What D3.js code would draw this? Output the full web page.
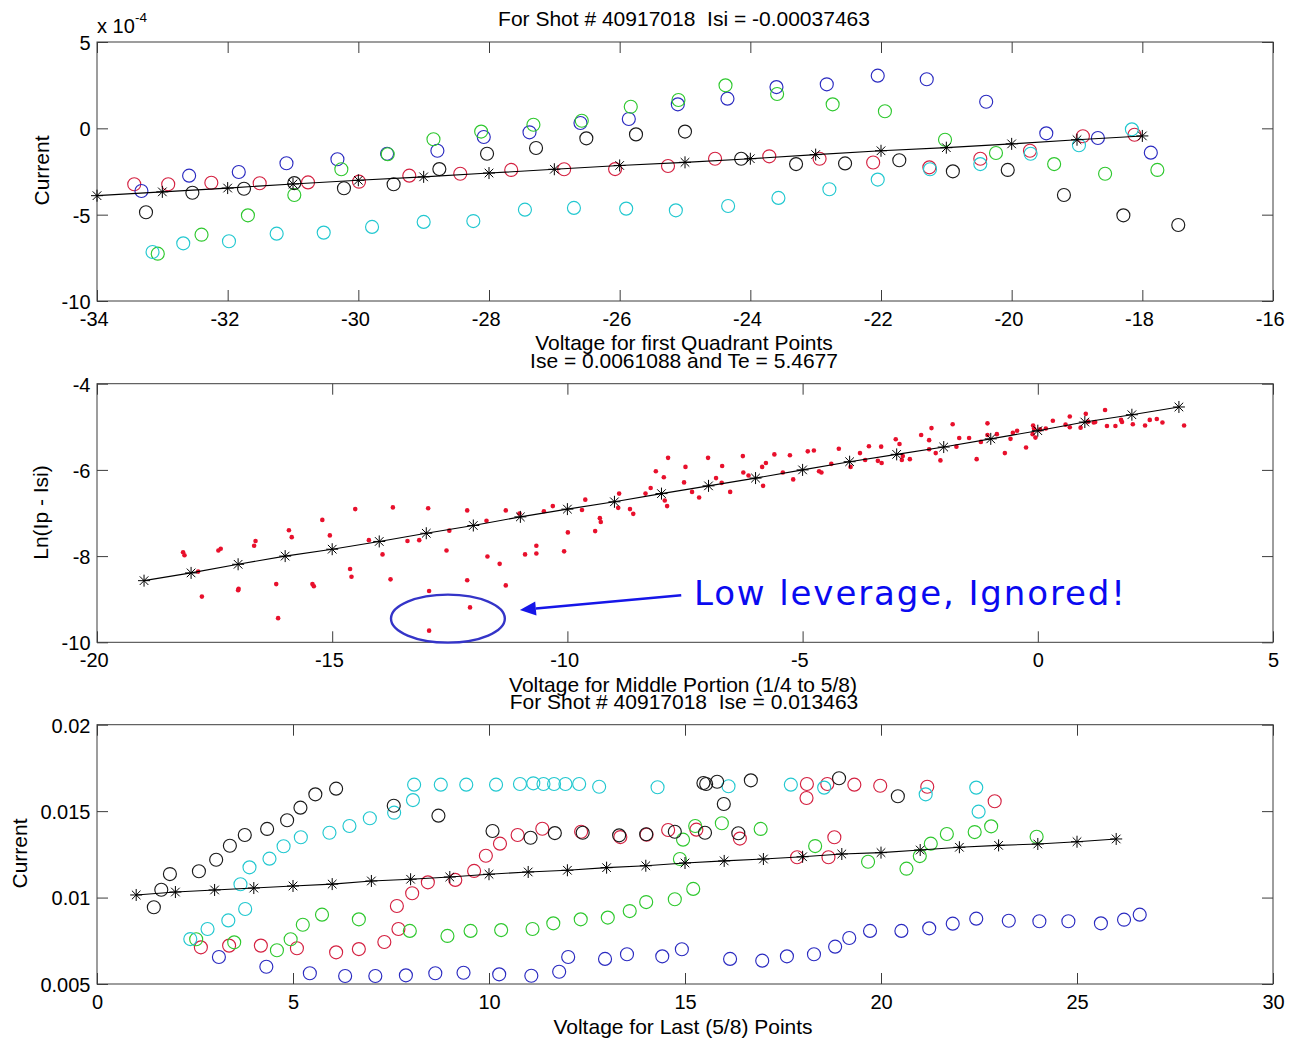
<!DOCTYPE html>
<html><head><meta charset="utf-8">
<script src="https://cdn.jsdelivr.net/npm/d3@7"></script>
<style>body{margin:0;background:#fff}</style>
</head><body>
<script>
// ---------------- DATA ----------------
// Top panel: first quadrant points (current in units of 1e-4)
const topXTicks = [-34,-32,-30,-28,-26,-24,-22,-20,-18,-16];
const topXTickLabels = ["-34","-32","-30","-28","-26","-24","-22","-20","-18","-16"];
const topYTicks = [-10,-5,0,5];
const topYTickLabels = ["-10","-5","0","5"];
const topFitV = [-34,-33,-32,-31,-30,-29,-28,-27,-26,-25,-24,-23,-22,-21,-20,-19,-18];
const topFitI = [-3.90,-3.68,-3.46,-3.22,-3.01,-2.81,-2.59,-2.37,-2.15,-1.97,-1.76,-1.52,-1.30,-1.12,-0.90,-0.66,-0.44];
const topRed = [[-33.43,-3.24],[-32.91,-3.24],[-32.25,-3.15],[-31.51,-3.18],[-30.77,-3.13],[-29.99,-3.09],[-29.22,-2.74],[-28.44,-2.63],[-27.66,-2.41],[-26.85,-2.37],[-26.07,-2.36],[-25.26,-2.18],[-24.54,-1.76],[-23.71,-1.62],[-22.94,-1.76],[-22.12,-1.98],[-21.26,-2.26],[-20.48,-1.76],[-19.72,-1.30],[-18.91,-0.46],[-18.12,-0.37]];
const topBlue = [[-33.32,-3.63],[-32.59,-2.74],[-31.83,-2.53],[-31.10,-2.02],[-30.32,-1.79],[-29.56,-1.47],[-28.79,-1.30],[-28.08,-0.50],[-27.38,-0.23],[-26.60,0.31],[-25.86,0.54],[-25.11,1.39],[-24.35,1.72],[-23.60,2.39],[-22.83,2.55],[-22.05,3.05],[-21.30,2.84],[-20.39,1.54],[-19.47,-0.29],[-18.68,-0.56],[-17.87,-1.41]];
const topGreen = [[-33.07,-7.26],[-32.40,-6.16],[-31.69,-5.04],[-30.98,-3.86],[-30.26,-2.37],[-29.55,-1.50],[-28.85,-0.63],[-28.12,-0.19],[-27.32,0.21],[-26.58,0.44],[-25.83,1.25],[-25.10,1.64],[-24.38,2.49],[-23.59,1.99],[-22.74,1.39],[-21.94,0.99],[-21.02,-0.66],[-20.24,-1.43],[-19.35,-2.07],[-18.57,-2.63],[-17.77,-2.41]];
const topCyan = [[-33.15,-7.16],[-32.68,-6.66],[-31.98,-6.54],[-31.25,-6.10],[-30.53,-6.04],[-29.79,-5.71],[-29.00,-5.42],[-28.24,-5.37],[-27.45,-4.71],[-26.70,-4.61],[-25.90,-4.65],[-25.14,-4.75],[-24.34,-4.50],[-23.57,-4.03],[-22.79,-3.53],[-22.05,-2.97],[-21.25,-2.37],[-20.48,-2.07],[-19.71,-1.47],[-18.97,-0.98],[-18.16,-0.06]];
const topBlack = [[-33.25,-4.86],[-32.54,-3.73],[-31.75,-3.50],[-30.98,-3.17],[-30.22,-3.47],[-29.46,-3.24],[-28.76,-2.36],[-28.03,-1.47],[-27.28,-1.14],[-26.51,-0.58],[-25.75,-0.35],[-25.00,-0.19],[-24.14,-1.76],[-23.30,-2.07],[-22.55,-2.03],[-21.72,-1.85],[-20.90,-2.49],[-20.06,-2.41],[-19.20,-3.86],[-18.29,-5.04],[-17.45,-5.60]];

// Middle panel: ln(Ip - Isi) vs voltage
const midXTicks = [-20,-15,-10,-5,0,5];
const midXTickLabels = ["-20","-15","-10","-5","0","5"];
const midYTicks = [-10,-8,-6,-4];
const midYTickLabels = ["-10","-8","-6","-4"];
const midFitV = [-19,-18,-17,-16,-15,-14,-13,-12,-11,-10,-9,-8,-7,-6,-5,-4,-3,-2,-1,0,1,2,3];
const midFitL = [-8.57,-8.39,-8.19,-8.00,-7.84,-7.66,-7.47,-7.29,-7.09,-6.91,-6.74,-6.55,-6.37,-6.19,-6.00,-5.81,-5.64,-5.47,-5.28,-5.09,-4.89,-4.72,-4.54];
const midDots = [[-18.17,-7.91],[-18.14,-7.98],[-17.77,-8.94],[-17.85,-8.36],[-17.42,-7.87],[-17.37,-7.83],[-16.99,-8.76],[-17.0,-8.79],[-16.66,-7.76],[-16.63,-7.65],[-16.19,-8.65],[-16.15,-9.44],[-15.92,-7.40],[-15.86,-7.56],[-15.42,-8.65],[-15.39,-8.70],[-15.21,-7.16],[-15.05,-7.52],[-14.51,-6.91],[-14.62,-8.30],[-14.59,-8.48],[-14.22,-7.63],[-13.93,-7.96],[-13.76,-8.54],[-13.71,-6.87],[-13.40,-7.65],[-13.15,-7.63],[-12.96,-6.89],[-12.94,-8.81],[-12.94,-9.73],[-12.57,-7.87],[-12.51,-7.41],
[-12.13,-6.94],[-12.13,-8.56],[-12.07,-9.19],[-11.72,-7.18],[-11.70,-8.01],[-11.44,-8.18],[-11.31,-6.94],[-11.31,-8.68],[-11.02,-7.01],[-10.90,-7.96],[-10.66,-7.76],[-10.66,-7.94],[-10.50,-6.96],[-10.31,-6.84],[-10.07,-7.89],[-9.99,-7.45],[-9.69,-6.93],[-9.62,-6.69],[-9.41,-7.42],[-9.31,-7.12],[-9.29,-7.21],[-8.90,-6.55],[-8.92,-6.88],[-8.67,-6.91],[-8.60,-7.02],[-8.34,-6.55],[-8.23,-6.42],[-8.12,-6.03],[-7.95,-6.17],[-7.93,-6.71],[-7.88,-6.84],[-7.86,-5.72],[-7.52,-6.29],[-7.49,-5.93],[-7.35,-6.51],[-7.20,-6.64],[-7.01,-5.72],[-6.84,-6.19],[-6.72,-6.30],[-6.71,-5.91],[-6.54,-6.51],[-6.27,-5.68],[-6.26,-6.06],[-6.15,-6.13],[-5.86,-5.93],[-5.84,-6.37],[-5.78,-5.84],[-5.60,-5.64],[-5.42,-6.06],[-5.27,-5.66],[-5.20,-6.22],[-4.89,-5.57],[-4.76,-5.55],[-4.65,-6.03],[-4.60,-6.06],[-4.39,-5.86],[-4.23,-5.51],[-3.98,-5.93],[-3.78,-5.61],[-3.67,-5.77],[-3.59,-5.45],
[-3.40,-5.79],[-3.32,-5.84],[-3.33,-5.46],[-3.02,-5.29],[-2.94,-5.40],[-2.89,-5.77],[-2.87,-5.68],[-2.72,-5.75],[-2.48,-5.19],[-2.31,-5.31],[-2.26,-5.03],[-2.31,-5.52],[-2.17,-5.61],[-2.07,-5.78],[-1.81,-4.94],[-1.73,-5.46],[-1.67,-5.26],[-1.46,-5.26],[-1.30,-5.75],[-1.21,-5.35],[-1.07,-4.92],[-1.07,-5.19],[-0.87,-5.17],[-0.70,-5.61],[-0.58,-5.28],[-0.53,-5.14],[-0.44,-5.09],[-0.25,-5.48],[-0.10,-4.97],[-0.08,-5.04],[-0.05,-5.25],[-0.11,-5.17],[0.05,-5.06],[0.17,-5.04],[0.32,-4.86],[0.59,-4.95],[0.68,-5.01],[0.68,-4.76],[0.91,-5.02],[1.02,-4.70],[1.07,-4.88],[1.19,-4.90],[1.22,-4.89],[1.43,-4.61],[1.47,-4.98],[1.65,-4.98],[1.77,-4.84],[1.79,-4.89],[2.02,-4.94],[2.28,-4.97],[2.38,-4.84],[2.53,-4.82],[2.65,-4.90],[3.11,-4.97]];
// Annotation (data coordinates of middle panel)
const noteText = "Low leverage, Ignored!";
const noteAt = [-7.31,-9.14];
const ellipseCenter = [-12.54,-9.45], ellipseRadii = [1.21,0.557];
const arrowFrom = [-7.58,-8.91], arrowTo = [-11.01,-9.25];

// Bottom panel: last 5/8 points (current in units of 1e-3)
const botXTicks = [0,5,10,15,20,25,30];
const botXTickLabels = ["0","5","10","15","20","25","30"];
const botYTicks = [5,10,15,20];
const botYTickLabels = ["0.005","0.01","0.015","0.02"];
const botFitV = [1,2,3,4,5,6,7,8,9,10,11,12,13,14,15,16,17,18,19,20,21,22,23,24,25,26];
const botFitI = [10.15,10.32,10.44,10.55,10.67,10.78,10.96,11.06,11.19,11.35,11.48,11.58,11.73,11.84,12.0,12.12,12.23,12.36,12.52,12.60,12.75,12.91,13.02,13.10,13.23,13.39];
const botBlack = [[1.45,9.44],[1.64,10.45],[1.86,11.36],[2.60,11.52],[3.04,12.19],[3.39,13.0],[3.77,13.62],[4.34,13.97],[4.85,14.47],[5.19,15.2],[5.57,15.97],[6.10,16.30],[7.57,15.31],[8.71,14.74],[10.09,13.85],[11.06,13.46],[11.68,13.73],[12.39,13.75],[13.32,13.60],[14.01,13.66],[14.74,13.81],[15.47,16.63],[15.54,16.57],[15.82,16.70],[15.99,15.41],[15.51,13.75],[16.36,13.72],[16.68,16.78],[18.93,16.90],[20.43,15.86]];
const botCyan = [[2.38,7.60],[2.82,8.18],[3.35,8.68],[3.78,9.34],[3.66,10.77],[3.89,11.75],[4.40,12.25],[4.76,12.97],[5.20,13.49],[5.93,13.75],[6.44,14.14],[6.96,14.59],[7.58,14.91],[8.06,15.64],[8.09,16.53],[8.77,16.53],[9.42,16.53],[10.18,16.53],[10.79,16.57],[11.13,16.61],[11.39,16.57],[11.66,16.57],[11.95,16.57],[12.30,16.57],[12.81,16.41],[14.30,16.38],[16.11,16.44],[17.70,16.53],[18.55,16.36],[21.14,15.97],[22.43,16.36],[22.49,14.97]];
const botGreen = [[2.53,7.59],[3.50,7.41],[4.59,6.95],[4.94,7.59],[5.25,8.43],[5.74,9.01],[6.68,8.74],[7.98,8.07],[8.94,7.78],[9.53,8.07],[10.31,8.12],[11.11,8.18],[11.64,8.51],[12.34,8.74],[13.03,8.84],[13.59,9.22],[14.01,9.74],[14.74,9.90],[15.21,10.50],[14.87,12.23],[14.95,13.35],[15.26,14.14],[15.94,14.30],[16.93,13.97],[18.32,12.98],[19.67,12.07],[20.65,11.67],[20.99,12.40],[21.27,13.12],[21.68,13.68],[22.39,13.79],[22.81,14.12],[23.97,13.52]];
const botRed = [[2.65,7.12],[3.37,7.22],[4.18,7.22],[5.10,7.07],[6.10,6.83],[6.68,7.02],[7.33,7.43],[7.69,8.18],[7.65,9.51],[8.04,10.25],[8.44,10.88],[9.14,11.02],[9.62,11.54],[9.92,12.42],[10.28,13.12],[10.73,13.62],[11.36,13.98],[12.35,13.81],[13.35,13.50],[14.02,13.64],[14.57,13.91],[15.29,13.93],[16.40,13.41],[17.86,12.33],[18.11,16.57],[18.10,15.76],[18.63,16.57],[18.66,12.33],[18.81,13.49],[19.32,16.53],[19.98,16.47],[21.18,16.41],[22.90,15.57]];
const botBlue = [[3.11,6.56],[4.32,6.0],[5.43,5.62],[6.33,5.46],[7.10,5.46],[7.88,5.50],[8.63,5.62],[9.35,5.65],[10.26,5.56],[11.08,5.48],[11.79,5.71],[12.02,6.56],[12.96,6.45],[13.52,6.72],[14.42,6.60],[14.92,7.01],[16.15,6.45],[16.97,6.35],[17.60,6.60],[18.29,6.72],[18.83,7.16],[19.19,7.66],[19.72,8.07],[20.52,8.07],[21.23,8.22],[21.83,8.49],[22.43,8.78],[23.26,8.66],[24.04,8.63],[24.78,8.63],[25.61,8.51],[26.20,8.72],[26.60,9.01]];

// ---------------- DRAWING ----------------
const FONT = '"Liberation Sans", Arial, Helvetica, sans-serif';
const COL = {red:"#d42040", blue:"#2a2ac0", green:"#2ec82e", cyan:"#22c8d0", black:"#1a1a1a"};
const svg = d3.select("body").append("svg").attr("width",1289).attr("height",1039);
const L = 97, R = 1273, AX = "#3c3c3c";

function panel(o){
  const x = d3.scaleLinear().domain(o.xd).range([L,R]);
  const y = d3.scaleLinear().domain(o.yd).range([o.b,o.t]);
  const g = svg.append("g");
  const xl = v => o.xl[o.xt.indexOf(v)];
  const yl = v => o.yl[o.yt.indexOf(v)];
  const ax = (gen, tr) => {
    const a = g.append("g").attr("transform",tr).call(gen);
    a.select(".domain").remove();
    a.selectAll("line").attr("stroke",AX);
    a.selectAll("text").attr("font-family",FONT).attr("font-size",20).attr("fill","#000");
    return a;
  };
  const bx = ax(d3.axisBottom(x).tickValues(o.xt).tickFormat(xl).tickSizeInner(-11).tickSizeOuter(0).tickPadding(10.5), `translate(0,${o.b})`);
  bx.selectAll("text").attr("dx", d => xl(d).startsWith("-") ? -3.3 : 0);
  ax(d3.axisTop(x).tickValues(o.xt).tickFormat("").tickSizeInner(-11).tickSizeOuter(0), `translate(0,${o.t})`);
  ax(d3.axisLeft(y).tickValues(o.yt).tickFormat(yl).tickSizeInner(-11).tickSizeOuter(0).tickPadding(6.5), `translate(${L},0)`)
    .selectAll("text").attr("dy","0.37em");
  ax(d3.axisRight(y).tickValues(o.yt).tickFormat("").tickSizeInner(-11).tickSizeOuter(0), `translate(${R},0)`);
  g.append("rect").attr("x",L).attr("y",o.t).attr("width",R-L).attr("height",o.b-o.t)
    .attr("fill","none").attr("stroke",AX).attr("stroke-width",1);
  return {x,y,g};
}

function circles(P, data, color){
  P.g.append("g").selectAll("circle").data(data).join("circle")
    .attr("cx",d=>P.x(d[0])).attr("cy",d=>P.y(d[1])).attr("r",6.5)
    .attr("fill","none").attr("stroke",color).attr("stroke-width",1.15);
}
const STAR = "M-6,0H6M0,-6V6M-4.3,-4.3L4.3,4.3M-4.3,4.3L4.3,-4.3";
function fit(P, xs, ys){
  const pts = xs.map((v,i)=>[v,ys[i]]);
  P.g.append("path").attr("d", d3.line().x(d=>P.x(d[0])).y(d=>P.y(d[1]))(pts))
    .attr("fill","none").attr("stroke","#000").attr("stroke-width",1.1);
  P.g.append("g").selectAll("path").data(pts).join("path")
    .attr("transform",d=>`translate(${P.x(d[0])},${P.y(d[1])})`)
    .attr("d",STAR).attr("stroke","#000").attr("stroke-width",1).attr("fill","none");
}
function txt(x,y,s,size,opts={}){
  const t = svg.append("text").attr("x",x).attr("y",y).text(s)
    .attr("font-family",opts.font||FONT).attr("font-size",size).attr("fill",opts.fill||"#000")
    .attr("text-anchor",opts.anchor||"middle");
  if(opts.rot) t.attr("transform",`rotate(-90,${x},${y})`);
  return t;
}

// ---- Top panel
const P1 = panel({xd:[-34,-16], yd:[-10,5], t:42, b:301, xt:topXTicks, xl:topXTickLabels, yt:topYTicks, yl:topYTickLabels});
circles(P1, topRed, COL.red);
circles(P1, topBlue, COL.blue);
circles(P1, topGreen, COL.green);
circles(P1, topCyan, COL.cyan);
circles(P1, topBlack, COL.black);
fit(P1, topFitV, topFitI);
txt(684, 26, "For Shot # 40917018  Isi = -0.00037463", 21).style("white-space","pre");
txt(97, 32.7, "x 10", 20, {anchor:"start"});
txt(135, 22, "-4", 13.5, {anchor:"start"});
txt(49, 170.5, "Current", 21, {rot:true});
txt(684, 350, "Voltage for first Quadrant Points", 21);

// ---- Middle panel
const P2 = panel({xd:[-20,5], yd:[-10,-4], t:383.7, b:642.3, xt:midXTicks, xl:midXTickLabels, yt:midYTicks, yl:midYTickLabels});
P2.g.append("g").selectAll("circle").data(midDots).join("circle")
  .attr("cx",d=>P2.x(d[0])).attr("cy",d=>P2.y(d[1])).attr("r",2.3).attr("fill","#e8102c");
fit(P2, midFitV, midFitL);
txt(684, 367.5, "Ise = 0.0061088 and Te = 5.4677", 21);
txt(48, 512.5, "Ln(Ip - Isi)", 21, {rot:true});
txt(683, 692, "Voltage for Middle Portion (1/4 to 5/8)", 21);
// annotation
P2.g.append("ellipse").attr("cx",P2.x(ellipseCenter[0])).attr("cy",P2.y(ellipseCenter[1]))
  .attr("rx",P2.x(ellipseCenter[0]+ellipseRadii[0])-P2.x(ellipseCenter[0]))
  .attr("ry",P2.y(ellipseCenter[1])-P2.y(ellipseCenter[1]+ellipseRadii[1]))
  .attr("fill","none").attr("stroke","#3434c8").attr("stroke-width",2.4);
{
  const x1=P2.x(arrowFrom[0]), y1=P2.y(arrowFrom[1]), x2=P2.x(arrowTo[0]), y2=P2.y(arrowTo[1]);
  const ang=Math.atan2(y2-y1,x2-x1), hl=16, hw=7;
  const bxp=x2-hl*Math.cos(ang), byp=y2-hl*Math.sin(ang);
  P2.g.append("line").attr("x1",x1).attr("y1",y1).attr("x2",bxp).attr("y2",byp)
    .attr("stroke","#1616e8").attr("stroke-width",2.6);
  P2.g.append("path").attr("d",`M${x2},${y2}L${bxp-hw*Math.sin(ang)},${byp+hw*Math.cos(ang)}L${bxp+hw*Math.sin(ang)},${byp-hw*Math.cos(ang)}Z`)
    .attr("fill","#1616e8");
}
txt(P2.x(noteAt[0]), P2.y(noteAt[1]), noteText, 34, {anchor:"start", font:'"DejaVu Sans", Verdana, sans-serif', fill:"#0a0af0"})
  .attr("textLength",431).attr("lengthAdjust","spacing");

// ---- Bottom panel
const P3 = panel({xd:[0,30], yd:[5,20], t:724.7, b:984, xt:botXTicks, xl:botXTickLabels, yt:botYTicks, yl:botYTickLabels});
circles(P3, botRed, COL.red);
circles(P3, botBlue, COL.blue);
circles(P3, botGreen, COL.green);
circles(P3, botCyan, COL.cyan);
circles(P3, botBlack, COL.black);
fit(P3, botFitV, botFitI);
txt(684, 708.5, "For Shot # 40917018  Ise = 0.013463", 21).style("white-space","pre");
txt(27, 853.5, "Current", 21, {rot:true});
txt(683, 1034, "Voltage for Last (5/8) Points", 21);
</script>
</body></html>
